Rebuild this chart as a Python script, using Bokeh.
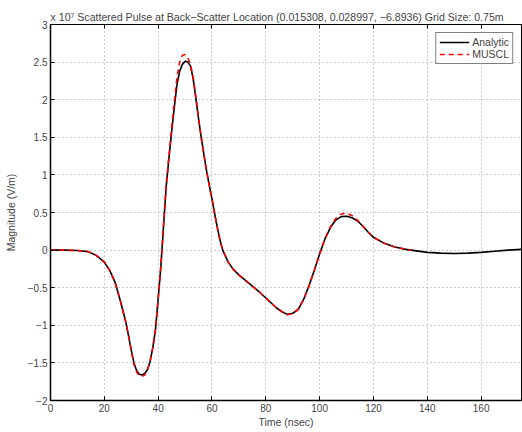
from bokeh.plotting import figure
from bokeh.models import ColumnDataSource, Range1d, FixedTicker, LinearAxis, Legend, LegendItem
from bokeh.embed import file_html
from bokeh.resources import INLINE

# Analytic series (time in nsec, magnitude in units of 1e7 V/m)
t_analytic = [0, 5, 10, 14, 17, 20, 22, 24, 26, 27, 28, 29, 30, 31, 32, 33, 34, 35, 36, 37, 38,
              39, 40, 41, 42, 43, 44, 45, 46, 47, 48, 49, 50, 51, 52, 53, 54, 55, 56, 57, 58,
              59, 60, 61, 62, 63, 64, 66, 68, 70, 72, 75, 78, 81, 84, 86,
              88, 90, 92, 94, 96, 98, 100, 102, 104, 106, 108, 110, 112, 114, 116, 118, 120,
              124, 128, 132, 136, 140, 145, 150, 155, 160, 165, 170, 175]
v_analytic = [0.0, 0.0, -0.005, -0.02, -0.07, -0.16, -0.27, -0.43, -0.68, -0.82, -0.96, -1.14,
              -1.33, -1.5, -1.6, -1.65, -1.66, -1.64, -1.59, -1.48, -1.3,
              -1.06, -0.65, -0.22, 0.32, 0.85, 1.22, 1.57, 1.9, 2.2, 2.38, 2.47, 2.51, 2.5,
              2.45, 2.28, 2.02, 1.75, 1.5, 1.27, 1.05,
              0.86, 0.68, 0.48, 0.3, 0.13, 0.0, -0.16, -0.26, -0.33, -0.39, -0.48, -0.57,
              -0.67, -0.77, -0.82,
              -0.855, -0.84, -0.79, -0.66, -0.48, -0.27, -0.05, 0.15, 0.3, 0.4, 0.445, 0.45,
              0.43, 0.39, 0.32, 0.24, 0.17,
              0.09, 0.04, 0.01, -0.01, -0.03, -0.04, -0.045, -0.04, -0.03, -0.015, 0.0, 0.01]

# MUSCL series
t_muscl = [0, 5, 10, 14, 17, 20, 22, 24, 26, 27, 28, 29, 30, 31, 32, 33, 34, 35, 36, 37, 38,
           39, 40, 41, 42, 43, 44, 45, 46, 47, 48, 49, 50, 51, 52, 53, 54, 55, 56, 57, 58,
           59, 60, 61, 62, 63, 64, 66, 68, 70, 72, 75, 78, 81, 84, 86,
           88, 90, 92, 94, 96, 98, 100, 102, 104, 106, 108, 110, 112, 114, 116, 118, 120,
           124, 128, 132, 134]
v_muscl = [0.0, 0.0, -0.005, -0.02, -0.07, -0.16, -0.27, -0.43, -0.68, -0.82, -0.96, -1.14,
           -1.34, -1.52, -1.62, -1.67, -1.68, -1.66, -1.6, -1.48, -1.3,
           -1.06, -0.65, -0.22, 0.33, 0.87, 1.25, 1.62, 1.97, 2.3, 2.5, 2.59, 2.6, 2.56,
           2.47, 2.3, 2.04, 1.76, 1.5, 1.27, 1.05,
           0.86, 0.68, 0.48, 0.3, 0.13, 0.0, -0.16, -0.26, -0.33, -0.39, -0.48, -0.57,
           -0.67, -0.77, -0.82,
           -0.86, -0.845, -0.79, -0.66, -0.48, -0.27, -0.05, 0.15, 0.31, 0.42, 0.48, 0.49,
           0.46, 0.4, 0.32, 0.24, 0.17,
           0.09, 0.04, 0.01, 0.0]

x_ticks = [0, 20, 40, 60, 80, 100, 120, 140, 160]
y_ticks = [-2, -1.5, -1, -0.5, 0, 0.5, 1, 1.5, 2, 2.5, 3]
y_tick_labels = ["−2", "−1.5", "−1", "−0.5", "0", "0.5", "1", "1.5", "2", "2.5", "3"]

exponent_text = "x 10⁷"
title_text = "Scattered Pulse at Back−Scatter Location (0.015308, 0.028997, −6.8936) Grid Size: 0.75m"
FONT = "Liberation Sans"

p = figure(width=522, height=432, output_backend="svg", toolbar_location=None,
           x_range=Range1d(0, 175), y_range=Range1d(-2, 3),
           min_border_left=50, min_border_right=1, min_border_top=24, min_border_bottom=32)
p.frame_width = 471
p.frame_height = 376
p.title.text = exponent_text + " " + title_text
p.title.align = "left"
p.title.offset = 0
p.title.standoff = 4
p.title.text_font = FONT
p.title.text_font_size = "10.6px"
p.title.text_font_style = "normal"

src_a = ColumnDataSource(dict(t=t_analytic, v=v_analytic))
src_m = ColumnDataSource(dict(t=t_muscl, v=v_muscl))
ra = p.line("t", "v", source=src_a, line_color="black", line_width=1.6)
rm = p.line("t", "v", source=src_m, line_color="#ff0000", line_width=1.6, line_dash="5 4")

for ax in [p.xaxis[0], p.yaxis[0]]:
    ax.major_label_text_font = FONT
    ax.major_label_text_font_size = "10px"
    ax.axis_label_text_font = FONT
    ax.axis_label_text_font_size = "10.5px"
    ax.axis_label_text_font_style = "normal"
    ax.major_tick_in = 4
    ax.major_tick_out = 0
    ax.minor_tick_in = 0
    ax.minor_tick_out = 0
    ax.axis_line_width = 1.5
    ax.major_tick_line_width = 1
    ax.major_label_standoff = 3

p.xaxis[0].ticker = FixedTicker(ticks=x_ticks)
p.yaxis[0].ticker = FixedTicker(ticks=y_ticks)
p.yaxis[0].major_label_overrides = {float(k): s for k, s in zip(y_ticks, y_tick_labels)}
p.xaxis[0].axis_label = "Time (nsec)"
p.xaxis[0].axis_label_standoff = 1
p.yaxis[0].axis_label = "Magnitude (V/m)"
p.yaxis[0].axis_label_standoff = 8

top = LinearAxis(ticker=FixedTicker(ticks=x_ticks), major_tick_in=4, major_tick_out=0,
                 minor_tick_in=0, minor_tick_out=0,
                 major_label_overrides={float(k): "" for k in x_ticks},
                 major_label_standoff=0, axis_line_width=1)
p.add_layout(top, "above")

p.grid.grid_line_color = "#999999"
p.grid.grid_line_dash = "1 3"
p.grid.grid_line_width = 1
p.xgrid.ticker = FixedTicker(ticks=x_ticks)
p.ygrid.ticker = FixedTicker(ticks=y_ticks)
p.outline_line_color = "black"
p.outline_line_width = 1
p.background_fill_color = "white"
p.border_fill_color = "white"

legend = Legend(items=[LegendItem(label="Analytic", renderers=[ra]),
                       LegendItem(label="MUSCL", renderers=[rm])],
                location="top_right", label_text_font=FONT, label_text_font_size="10.5px",
                glyph_width=30, glyph_height=10, label_height=10, spacing=0, padding=3,
                margin=8, label_standoff=3, border_line_color="black", border_line_width=1.2,
                background_fill_alpha=1)
p.add_layout(legend)

open("out.html", "w").write(file_html(p, INLINE))
